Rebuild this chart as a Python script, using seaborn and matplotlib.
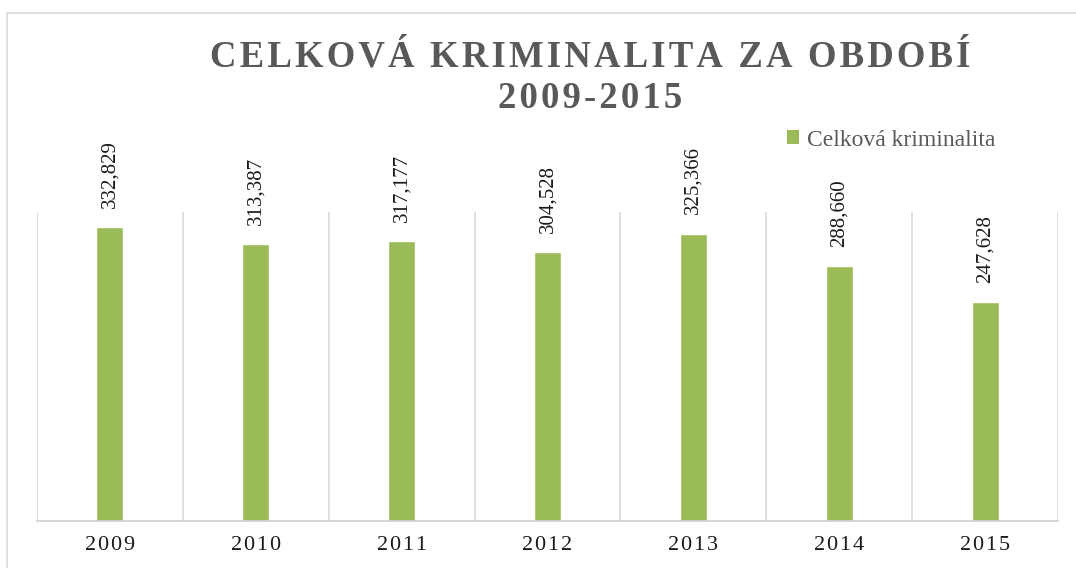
import matplotlib
matplotlib.use("Agg")
import matplotlib.pyplot as plt
import matplotlib.patches as patches
import seaborn as sns
import pandas as pd

years = ["2009", "2010", "2011", "2012", "2013", "2014", "2015"]
values = [332829, 313387, 317177, 304528, 325366, 288660, 247628]
series_name = "Celková kriminalita"
title_lines = ["CELKOVÁ KRIMINALITA ZA OBDOBÍ", "2009-2015"]

sns.set_theme(style="white")
plt.rcParams['font.family'] = ['Liberation Serif', 'DejaVu Serif']

df = pd.DataFrame({"year": years, "value": values})

fig = plt.figure(figsize=(10.76, 5.68), dpi=100)
ax = fig.add_axes([37/1076, 47/568, 1021/1076, 309/568])

green = "#9BBB59"
sns.barplot(data=df, x="year", y="value", color=green, width=0.185,
            ax=ax, saturation=1)

ax.set_ylim(0, 350000)
ax.set_xlim(-0.5, len(years) - 0.5)
ax.set_xlabel("")
ax.set_ylabel("")
ax.set_yticks([])

# category boundary gridlines
for b in [i - 0.5 for i in range(len(years) + 1)]:
    ax.axvline(b, color="#D9D9D9", lw=1.2, zorder=0)

for s in ["top", "right", "left"]:
    ax.spines[s].set_visible(False)
ax.spines["bottom"].set_color("#D0D0D0")
ax.spines["bottom"].set_linewidth(1.2)

spaced = ["\u200a".join(list(y)) for y in years]
ax.set_xticks(range(len(years)))
ax.set_xticklabels(spaced, fontsize=16, color="#1a1a1a")
ax.tick_params(axis="x", length=0, pad=11)

for i, v in enumerate(values):
    ax.annotate(f"{v:,}", (i, v), xytext=(0, 14), textcoords="offset points",
                rotation=90, ha="center", va="bottom", fontsize=15, color="#1a1a1a")

# legend
handle = patches.Patch(facecolor=green, edgecolor="none")
leg = fig.legend([handle], [series_name], loc="center left",
                 bbox_to_anchor=(775/1076, 1 - 140/568), frameon=False, borderpad=0,
                 fontsize=17, handlelength=0.5, handleheight=0.5, handletextpad=0.35,
                 labelcolor="#595959")

# title
def spaced_title(t):
    return "\u200a".join(list(t))

fig.text(590/1076, 1 - 57/568, spaced_title(title_lines[0]), ha="center", va="center",
         fontsize=26.5, fontweight="bold", color="#595959")
fig.text(590/1076, 1 - 99/568, spaced_title(title_lines[1]), ha="center", va="center",
         fontsize=26.5, fontweight="bold", color="#595959")

# outer chart frame
frame = patches.Rectangle((7/1076, -0.1), 1.2, (568 - 13)/568 + 0.1,
                          transform=fig.transFigure, fill=False,
                          edgecolor="#D9D9D9", lw=1.2)
fig.patches.append(frame)

fig.savefig("out.png", dpi=100)
